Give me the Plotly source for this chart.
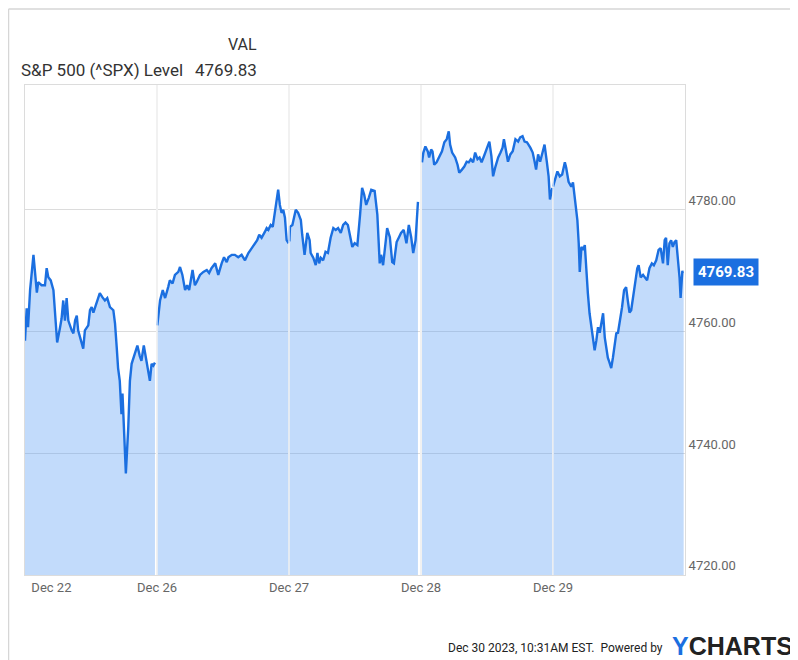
import plotly.graph_objects as go

# ---------------- data ----------------
day_labels = ["Dec 22", "Dec 26", "Dec 27", "Dec 28", "Dec 29"]

# minutes after the 9:30 open, and S&P 500 level
minutes_dec22 = [0, 5, 9, 15, 25, 30, 35, 39, 49, 59, 64, 69, 76, 84, 89, 95, 103, 108, 113, 118,
                 123, 128, 138, 143, 148, 153, 157, 167, 172, 177, 187, 192, 197, 202, 212, 221, 229,
                 236, 243, 251, 261, 266, 271, 275, 280, 285, 288, 292, 298, 305, 310, 315, 325, 332,
                 339, 344, 351, 359, 364, 369, 374, 379, 384]
values_dec22 = [4758.5, 4763.8, 4760.7, 4766.8, 4772.6, 4769.6, 4766.4, 4768.1, 4767.6, 4767.6,
                4770.4, 4768.9, 4768.4, 4766.8, 4763.0, 4758.2, 4760.5, 4762.1, 4765.1, 4761.8,
                4765.5, 4761.8, 4760.2, 4759.7, 4761.8, 4762.6, 4760.2, 4758.0, 4757.2, 4760.2,
                4761.0, 4763.5, 4764.0, 4763.1, 4764.6, 4766.3, 4765.6, 4765.1, 4765.5, 4764.0,
                4763.5, 4761.3, 4757.4, 4754.0, 4751.9, 4746.4, 4749.8, 4744.1, 4736.7, 4744.1,
                4751.9, 4754.7, 4756.5, 4757.7, 4756.0, 4755.2, 4757.7, 4755.2, 4753.2, 4751.9,
                4754.7, 4754.4, 4754.9]

minutes_dec26 = [1, 9, 17, 24, 33, 38, 46, 53, 63, 68, 75, 83, 89, 95, 105, 112, 117, 127, 137, 147,
                 154, 161, 172, 181, 191, 198, 206, 211, 221, 230, 240, 250, 260, 270, 280, 289, 296,
                 302, 309, 319, 324, 329, 336, 342, 348, 354, 358, 363, 368, 373, 378, 383, 389]
values_dec26 = [4761.0, 4765.1, 4766.8, 4765.5, 4767.3, 4768.4, 4767.9, 4769.3, 4769.8, 4770.6,
                4769.3, 4766.8, 4767.6, 4766.8, 4770.1, 4767.6, 4768.1, 4769.3, 4769.8, 4770.1,
                4769.6, 4770.4, 4771.2, 4769.3, 4771.2, 4772.2, 4771.4, 4772.2, 4772.6, 4772.6,
                4772.2, 4772.6, 4771.7, 4772.9, 4773.7, 4774.5, 4775.0, 4775.9, 4775.4, 4776.4,
                4777.0, 4776.7, 4777.5, 4777.2, 4779.5, 4782.5, 4783.3, 4780.8, 4779.5, 4780.0,
                4778.7, 4775.0, 4774.5]

minutes_dec27 = [1, 3, 10, 20, 27, 35, 39, 46, 54, 61, 64, 72, 79, 84, 89, 94, 101, 108, 115, 123,
                 131, 138, 145, 153, 160, 167, 174, 179, 187, 194, 202, 210, 216, 222, 228, 236, 243,
                 253, 261, 268, 272, 278, 286, 290, 298, 305, 310, 318, 325, 331, 339, 347, 354, 361,
                 367, 374, 381]
values_dec27 = [4774.8, 4777.2, 4777.5, 4780.0, 4779.5, 4778.3, 4775.9, 4772.6, 4776.2, 4775.0,
                4772.9, 4772.1, 4770.9, 4772.9, 4771.2, 4772.1, 4771.7, 4773.1, 4772.9, 4775.4,
                4777.0, 4776.7, 4777.0, 4776.2, 4777.5, 4777.9, 4777.5, 4776.2, 4773.9, 4774.5,
                4774.2, 4779.2, 4783.6, 4782.5, 4780.8, 4782.0, 4783.3, 4783.1, 4779.2, 4771.2,
                4772.6, 4770.9, 4774.7, 4777.0, 4775.5, 4771.4, 4771.2, 4774.7, 4775.5, 4776.2,
                4776.7, 4774.5, 4777.5, 4775.5, 4772.9, 4775.0, 4781.3]

minutes_dec28 = [3, 7, 13, 20, 24, 30, 34, 39, 46, 54, 62, 69, 76, 82, 86, 92, 101, 108, 113, 121,
                 128, 135, 141, 147, 154, 160, 167, 173, 179, 186, 196, 202, 208, 213, 220, 228, 235,
                 241, 245, 251, 257, 264, 271, 279, 287, 293, 300, 306, 313, 323, 330, 336, 340, 346,
                 352, 359, 365, 372, 377, 381, 388]
values_dec28 = [4787.8, 4789.4, 4790.4, 4789.6, 4788.6, 4789.9, 4789.6, 4787.4, 4787.8, 4788.6,
                4789.6, 4791.1, 4791.6, 4792.9, 4790.7, 4789.4, 4788.6, 4787.4, 4786.1, 4786.6,
                4787.1, 4787.9, 4787.8, 4788.3, 4787.8, 4789.4, 4788.3, 4788.6, 4787.8, 4788.8,
                4790.2, 4791.2, 4788.8, 4785.5, 4787.1, 4788.6, 4789.4, 4790.2, 4791.6, 4789.4,
                4787.9, 4789.1, 4789.6, 4791.6, 4791.2, 4791.9, 4792.1, 4791.2, 4791.1, 4790.2,
                4789.4, 4787.8, 4786.6, 4789.1, 4787.9, 4789.4, 4790.7, 4787.8, 4785.5, 4781.7,
                4783.6]

minutes_dec29 = [0, 7, 13, 20, 27, 35, 39, 46, 54, 59, 66, 72, 76, 79, 84, 89, 94, 98, 103, 108,
                 113, 118, 123, 128, 133, 138, 143, 148, 153, 157, 162, 167, 172, 177, 182, 187, 192,
                 197, 204, 210, 216, 221, 226, 231, 236, 243, 249, 253, 259, 266, 272, 278, 285, 292,
                 298, 305, 312, 318, 325, 330, 334, 339, 344, 349, 354, 359, 364, 369, 374, 377, 382,
                 386]
values_dec29 = [4783.8, 4785.3, 4786.3, 4785.5, 4785.8, 4787.8, 4786.9, 4784.6, 4783.8, 4784.5,
                4780.5, 4778.3, 4774.5, 4769.8, 4773.9, 4773.4, 4774.2, 4769.6, 4766.3, 4763.0,
                4760.7, 4759.3, 4756.9, 4758.5, 4760.7, 4759.8, 4761.3, 4763.0, 4759.0, 4757.4,
                4755.7, 4754.9, 4754.0, 4755.7, 4757.7, 4759.7, 4759.8, 4761.3, 4764.0, 4766.8,
                4767.3, 4765.1, 4763.1, 4763.5, 4765.6, 4768.4, 4770.4, 4770.9, 4768.9, 4769.3,
                4768.9, 4768.4, 4770.4, 4771.2, 4770.9, 4771.7, 4773.4, 4773.7, 4771.2, 4775.0,
                4775.4, 4770.9, 4774.5, 4775.0, 4773.9, 4774.7, 4775.0, 4772.2, 4768.8, 4765.5,
                4769.8, 4769.83]

minutes_all = [minutes_dec22, minutes_dec26, minutes_dec27, minutes_dec28, minutes_dec29]
values_all = [values_dec22, values_dec26, values_dec27, values_dec28, values_dec29]

y_ticks = [4720, 4740, 4760, 4780]
last_value = 4769.83
series_name = "S&P 500 (^SPX) Level"
footer_text = "Dec 30 2023, 10:31AM EST.  Powered by"
session_minutes = 390

# ---------------- figure ----------------
LINE = "#1b6fe0"
FILL = "rgba(95,160,245,0.38)"
GRID = "#dcdcdc"
FONT = "Roboto, Arial, sans-serif"

fig = go.Figure()
for i, (mins, vals) in enumerate(zip(minutes_all, values_all)):
    xs = [i + m / session_minutes for m in mins]
    fig.add_trace(go.Scatter(
        x=xs, y=vals, mode="lines", fill="tozeroy", fillcolor=FILL,
        line=dict(color=LINE, width=2.4), hoverinfo="skip", showlegend=False,
    ))

n_days = len(day_labels)
# tick positions: first label sits a little inside the first session
tickvals = [0.2] + list(range(1, n_days))

# page body has an 8px margin, so the figure is 790x652
fig.update_layout(
    width=790, height=652,
    margin=dict(l=17, r=113, t=77, b=85),
    paper_bgcolor="white", plot_bgcolor="white",
    font=dict(family=FONT, color="#666"),
    showlegend=False,
    xaxis=dict(
        range=[0, n_days], tickvals=tickvals, ticktext=day_labels,
        showgrid=False, zeroline=False, showline=True, mirror=True,
        linecolor=GRID, linewidth=1, ticks="",
        tickfont=dict(size=13, color="#666", family=FONT),
        minor=dict(tickvals=list(range(1, n_days)), showgrid=True, gridcolor=GRID, gridwidth=1.5),
    ),
    yaxis=dict(
        range=[4720, 4800.5], side="right", tickvals=y_ticks, tickformat=".2f",
        showgrid=True, gridcolor=GRID, gridwidth=1, zeroline=False,
        showline=True, mirror=True, linecolor=GRID, ticks="",
        ticklabelposition="outside top",
        tickfont=dict(size=13, color="#666", family=FONT),
    ),
)

# whitish session separators over the fill
for d in range(1, n_days):
    fig.add_shape(type="line", xref="x", yref="paper", x0=d, x1=d, y0=0, y1=1,
                  line=dict(color="rgba(255,255,255,0.6)", width=2), layer="above")

# card border (left and top) along the figure edge
fig.add_shape(type="line", xref="paper", yref="paper", x0=-0.0250, x1=-0.0250, y0=-0.3, y1=1.155,
              line=dict(color="#d6d6d6", width=1.5))
fig.add_shape(type="line", xref="paper", yref="paper", x0=-0.0250, x1=1.3, y0=1.155, y1=1.155,
              line=dict(color="#d6d6d6", width=1.5))

# legend header
fig.add_annotation(xref="paper", yref="paper", x=0.354, y=1.082, xanchor="right", yanchor="middle",
                   text="VAL", showarrow=False, font=dict(size=16, color="#333", family=FONT))
fig.add_annotation(xref="paper", yref="paper", x=-0.009, y=1.031, xanchor="left", yanchor="middle",
                   text=series_name, showarrow=False, font=dict(size=17, color="#333", family=FONT))
fig.add_annotation(xref="paper", yref="paper", x=0.354, y=1.031, xanchor="right", yanchor="middle",
                   text=f"{last_value:.2f}", showarrow=False, font=dict(size=17, color="#333", family=FONT))

# last value tag
fig.add_annotation(xref="paper", yref="y", x=1, y=last_value, xanchor="left", yanchor="middle",
                   xshift=8, text=f"<b>{last_value:.2f}</b>", showarrow=False,
                   bgcolor=LINE, borderpad=4,
                   font=dict(size=15, color="white", family=FONT))
fig.add_shape(type="path", xref="x", yref="y", xsizemode="pixel", ysizemode="pixel",
              xanchor=n_days, yanchor=last_value, path="M 0 0 L 9 12 L 9 -12 Z",
              fillcolor=LINE, line=dict(width=0))

# footer
fig.add_annotation(xref="paper", yref="paper", x=0.97, y=-0.149, xanchor="right", yanchor="middle",
                   text=footer_text, showarrow=False, font=dict(size=12, color="#222", family=FONT))
fig.add_annotation(xref="paper", yref="paper", x=1.166, y=-0.145, xanchor="right", yanchor="middle",
                   text="<span style='color:#1b6fe0'>Y</span>CHARTS", showarrow=False,
                   font=dict(size=25, color="#222", family="Arial, sans-serif", weight="bold"))

fig.write_html("out.html")
